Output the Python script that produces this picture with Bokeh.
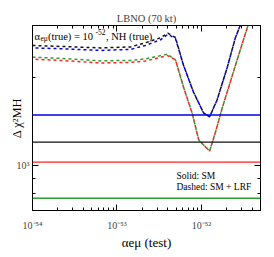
from bokeh.plotting import figure
from bokeh.models import Range1d, FixedTicker, CustomJSTickFormatter, LogAxis, Label, Span
from bokeh.embed import file_html
from bokeh.resources import INLINE

# ---------------- data ----------------
x_min, x_max = 1e-54, 5e-52
y_min, y_max = 700, 3000

# Solid: SM (flat levels)
sm_blue = 1484
sm_black = 1199
sm_red = 1024
sm_green = 771

# Dashed: SM + LRF
x_bk = [1.0e-54, 2.14e-54, 6.38e-54, 1.45e-53, 2.17e-53, 3.27e-53, 3.99e-53, 4.92e-53,
        6.12e-53, 8.04e-53, 1.06e-52, 1.25e-52, 1.53e-52, 2.01e-52, 2.52e-52, 2.89e-52, 3.32e-52]
y_black = [2563, 2545, 2515, 2535, 2618, 2723, 2825, 2730, 2198, 1778, 1507, 1463, 1670, 2147, 2723, 3013, 3342]
y_blue = [2516, 2500, 2466, 2486, 2565, 2680, 2798, 2711, 2198, 1778, 1507, 1463, 1670, 2147, 2723, 3013, 3342]

x_rg = [1.0e-54, 2.14e-54, 6.38e-54, 1.45e-53, 2.17e-53, 3.27e-53, 3.93e-53, 4.92e-53, 6.18e-53,
        7.76e-53, 9.29e-53, 1.25e-52, 1.47e-52, 1.76e-52, 2.20e-52, 2.76e-52, 3.48e-52, 4.02e-52]
y_green = [2339, 2317, 2271, 2280, 2307, 2367, 2395, 2290, 1835, 1507, 1218, 1117, 1300, 1567, 1928, 2382, 2944, 3289]
y_red = [2301, 2280, 2234, 2244, 2270, 2334, 2371, 2290, 1835, 1507, 1218, 1117, 1300, 1567, 1928, 2382, 2944, 3289]

x_major = [1e-54, 1e-53, 1e-52]
y_major = [1000]
y_minor = [700, 800, 900, 2000, 3000]

x_title = "\u03b1e\u03bc (test)"
y_title = "\u0394 \u03c7\u00b2MH"

C_BLUE = "#0000ee"
C_BLACK = "#111111"
C_RED = "#ff2020"
C_GREEN = "#2f9a2f"
FONT = "Liberation Serif"

x_minor = [m * 10.0 ** e for e in (-54, -53, -52) for m in range(2, 10) if m * 10.0 ** e <= x_max]

# ---------------- figure ----------------
p = figure(width=274, height=257, x_axis_type="log", y_axis_type="log",
           x_range=Range1d(x_min, x_max), y_range=Range1d(y_min, y_max),
           output_backend="svg", toolbar_location=None,
           min_border_left=32, min_border_right=14, min_border_top=25, min_border_bottom=47,
           title="LBNO (70 kt)")
p.background_fill_color = "white"
p.border_fill_color = "white"
p.outline_line_color = "black"
p.grid.visible = False

p.title.align = "center"
p.title.text_font = FONT
p.title.text_font_style = "normal"
p.title.text_font_size = "10.5px"
p.title.standoff = 4

sup_code = """
const e = Math.round(Math.log10(tick));
const sup = {'-':'\u207b','0':'\u2070','1':'\u00b9','2':'\u00b2','3':'\u00b3','4':'\u2074','5':'\u2075','6':'\u2076','7':'\u2077','8':'\u2078','9':'\u2079'};
return '10' + String(e).split('').map(c => sup[c]).join('');
"""
fmt = CustomJSTickFormatter(code=sup_code)
blank = CustomJSTickFormatter(code="return '';")

xt = FixedTicker(ticks=x_major, minor_ticks=x_minor)
yt = FixedTicker(ticks=y_major, minor_ticks=y_minor)

def style(ax, ticker, formatter, standoff):
    ax.ticker = ticker
    ax.formatter = formatter
    ax.major_tick_in = 6
    ax.major_tick_out = 0
    ax.minor_tick_in = 3
    ax.minor_tick_out = 0
    ax.axis_line_color = "black"
    ax.major_tick_line_color = "black"
    ax.minor_tick_line_color = "black"
    ax.major_label_text_font = FONT
    ax.major_label_text_font_size = "10px"
    ax.major_label_standoff = standoff
    ax.axis_label_text_font = FONT
    ax.axis_label_text_font_style = "normal"
    ax.axis_label_text_color = "black"

style(p.xaxis[0], xt, fmt, 9)
style(p.yaxis[0], yt, fmt, 3)
p.xaxis[0].axis_label = x_title
p.xaxis[0].axis_label_text_font_size = "13px"
p.xaxis[0].axis_label_standoff = 1
p.yaxis[0].axis_label = y_title
p.yaxis[0].axis_label_text_font_size = "12.5px"
p.yaxis[0].axis_label_standoff = -10

top = LogAxis()
style(top, FixedTicker(ticks=x_major, minor_ticks=x_minor), blank, 0)
top.major_label_text_font_size = "0px"
p.add_layout(top, "above")
right = LogAxis()
style(right, FixedTicker(ticks=y_major, minor_ticks=y_minor), blank, 0)
right.major_label_text_font_size = "0px"
p.add_layout(right, "right")

# solid SM levels
for lvl, c in [(sm_blue, C_BLUE), (sm_black, C_BLACK), (sm_red, C_RED), (sm_green, C_GREEN)]:
    p.add_layout(Span(location=lvl, dimension="width", line_color=c, line_width=1.4))

# dashed SM + LRF
p.line(x_bk, y_black, line_color=C_BLACK, line_width=1.5, line_dash="3 3")
p.line(x_bk, y_blue, line_color=C_BLUE, line_width=1.5, line_dash="3 3", line_dash_offset=3)
p.line(x_rg, y_green, line_color=C_GREEN, line_width=1.5, line_dash="3 3")
p.line(x_rg, y_red, line_color=C_RED, line_width=1.5, line_dash="3 3", line_dash_offset=3)

def lab(x, y, t, size, baseline="alphabetic"):
    p.add_layout(Label(x=x, y=y, x_units="screen", y_units="screen", text=t,
                       text_font=FONT, text_font_size=size, text_baseline=baseline,
                       text_color="black"))

# in-plot annotation
lab(2, 174.5, "\u03b1", "10.5px")
lab(8, 172, "e\u03bc", "7.5px")
lab(15.5, 174.5, " (true) = 10", "10.5px")
lab(63, 178.5, "-52", "7.5px")
lab(73.5, 174.5, ",  NH (true)", "10.5px")

lab(144, 35, "Solid: SM", "9.5px", baseline="middle")
lab(144, 24, "Dashed: SM + LRF", "9.5px", baseline="middle")

open("out.html", "w").write(file_html(p, INLINE))
